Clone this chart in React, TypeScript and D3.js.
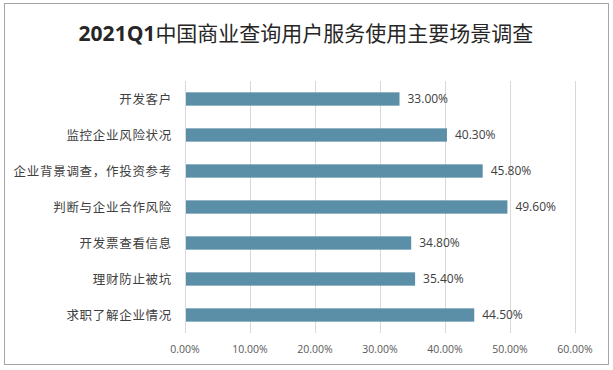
import React, { useEffect, useRef } from "react";
import * as d3 from "d3";

const categories = [
  "开发客户",
  "监控企业风险状况",
  "企业背景调查，作投资参考",
  "判断与企业合作风险",
  "开发票查看信息",
  "理财防止被坑",
  "求职了解企业情况",
];
const values = [33.0, 40.3, 45.8, 49.6, 34.8, 35.4, 44.5];
const ticks = [0, 10, 20, 30, 40, 50, 60];

const W = 613;
const H = 370;
const margin = { top: 81, right: 37, bottom: 37, left: 185 };

const App = () => {
  const ref = useRef<SVGSVGElement>(null);

  useEffect(() => {
    const svg = d3.select(ref.current);
    svg.selectAll("*").remove();

    // chart border
    svg
      .append("rect")
      .attr("x", 4.5)
      .attr("y", 3.5)
      .attr("width", 604)
      .attr("height", 361)
      .attr("fill", "#fff")
      .attr("stroke", "#a6a6a6");

    const title = svg
      .append("text")
      .attr("x", 306)
      .attr("y", 41)
      .attr("text-anchor", "middle")
      .attr("fill", "#262626")
      .style("font-size", "21px");
    title
      .append("tspan")
      .style("font-family", "'Open Sans', sans-serif")
      .style("font-weight", "bold")
      .text("2021Q1");
    title
      .append("tspan")
      .style("font-family", "'Noto Sans CJK SC', sans-serif")
      .style("font-weight", 400)
      .text("中国商业查询用户服务使用主要场景调查");

    const x = d3
      .scaleLinear()
      .domain([0, 60])
      .range([margin.left, W - margin.right - 1]);

    const y = d3
      .scaleBand()
      .domain(categories)
      .range([margin.top, H - margin.bottom])
      .paddingInner(0.63)
      .paddingOuter(0.315);

    // gridlines
    svg
      .append("g")
      .selectAll("line")
      .data(ticks)
      .enter()
      .append("line")
      .attr("x1", (d) => Math.round(x(d)) + 0.5)
      .attr("x2", (d) => Math.round(x(d)) + 0.5)
      .attr("y1", margin.top)
      .attr("y2", H - margin.bottom)
      .attr("stroke", "#d9d9d9");

    // tick labels
    svg
      .append("g")
      .selectAll("text")
      .data(ticks)
      .enter()
      .append("text")
      .attr("x", (d) => x(d))
      .attr("y", 353)
      .attr("text-anchor", "middle")
      .attr("fill", "#595959")
      .style("font-family", "'Open Sans', sans-serif")
      .style("font-size", "10.5px")
      .text((d) => d.toFixed(2) + "%");

    // bars
    svg
      .append("g")
      .selectAll("rect")
      .data(values)
      .enter()
      .append("rect")
      .attr("x", x(0) + 1)
      .attr("y", (d, i) => y(categories[i])!)
      .attr("width", (d) => x(d) - x(0) - 1)
      .attr("height", y.bandwidth())
      .attr("fill", "#5b8fa7");

    // value labels
    svg
      .append("g")
      .selectAll("text")
      .data(values)
      .enter()
      .append("text")
      .attr("x", (d) => x(d) + 8)
      .attr("y", (d, i) => y(categories[i])! + y.bandwidth() / 2)
      .attr("dy", "0.36em")
      .attr("fill", "#404040")
      .style("font-family", "'Open Sans', sans-serif")
      .style("font-size", "12px")
      .text((d) => d.toFixed(2) + "%");

    // category labels
    svg
      .append("g")
      .selectAll("text")
      .data(categories)
      .enter()
      .append("text")
      .attr("x", 172)
      .attr("y", (d) => y(d)! + y.bandwidth() / 2)
      .attr("dy", "0.36em")
      .attr("text-anchor", "end")
      .attr("fill", "#404040")
      .style("font-family", "'Noto Sans CJK SC', sans-serif")
      .style("font-size", "12.5px")
      .style("letter-spacing", "0.7px")
      .text((d) => d);
  }, []);

  return (
    <svg
      ref={ref}
      width={W}
      height={H}
      style={{ position: "absolute", left: 0, top: 0, background: "#fff" }}
    />
  );
};

export default App;
